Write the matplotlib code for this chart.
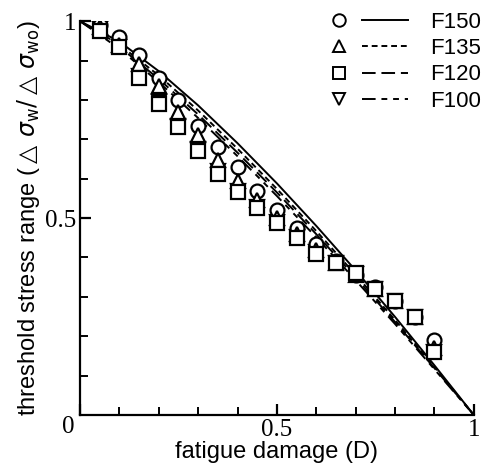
import numpy as np
import matplotlib.pyplot as plt
from matplotlib.lines import Line2D
from matplotlib.legend_handler import HandlerTuple

# measured points (fatigue damage D vs threshold stress range ratio)
D_pts = [0.05, 0.10, 0.15, 0.20, 0.25, 0.30, 0.35, 0.40, 0.45,
         0.50, 0.55, 0.60, 0.65, 0.70, 0.75, 0.80, 0.85, 0.90]
F150_pts = [0.99, 0.96, 0.915, 0.855, 0.80, 0.735, 0.68, 0.63, 0.57,
            0.52, 0.475, 0.435, 0.39, 0.355, 0.325, 0.29, 0.25, 0.19]
F135_pts = [0.985, 0.94, 0.89, 0.835, 0.77, 0.71, 0.647, 0.595, 0.545,
            0.50, 0.46, 0.42, 0.385, 0.355, 0.32, 0.29, 0.25, 0.17]
F120_pts = [0.975, 0.935, 0.855, 0.79, 0.73, 0.67, 0.613, 0.565, 0.525,
            0.487, 0.45, 0.41, 0.385, 0.36, 0.32, 0.29, 0.25, 0.16]
F100_pts = [0.98, 0.935, 0.86, 0.795, 0.735, 0.675, 0.62, 0.57, 0.528,
            0.49, 0.452, 0.413, 0.385, 0.357, 0.32, 0.29, 0.25, 0.16]

# calculated curves
D_line = [0.0, 0.1, 0.2, 0.3, 0.4, 0.5, 0.6, 0.7, 0.8, 0.9, 1.0]
F150_line = [1.0, 0.948, 0.873, 0.786, 0.69, 0.588, 0.48, 0.367, 0.249, 0.126, 0.0]
F135_line = [1.0, 0.94, 0.862, 0.773, 0.676, 0.574, 0.467, 0.356, 0.241, 0.122, 0.0]
F120_line = [1.0, 0.935, 0.853, 0.763, 0.666, 0.565, 0.459, 0.349, 0.236, 0.119, 0.0]
F100_line = [1.0, 0.93, 0.845, 0.754, 0.657, 0.556, 0.451, 0.342, 0.231, 0.116, 0.0]

labels = ['F150', 'F135', 'F120', 'F100']
markers = ['o', '^', 's', 'v']
styles = ['-', (0, (3, 2)), (0, (7, 3)), (0, (7, 3, 3, 3, 3, 3))]

sans = ['Liberation Sans', 'DejaVu Sans']
serif = ['Liberation Serif', 'DejaVu Serif']

fig = plt.figure(figsize=(4.88, 4.65), dpi=100)
ax = fig.add_axes([0.164, 0.1075, 0.807, 0.847])

pts = [F150_pts, F135_pts, F120_pts, F100_pts]
lines = [F150_line, F135_line, F120_line, F100_line]
order = [3, 0, 1, 2]  # draw F100 first so squares cover it
handles = []
for lab, m, ls, yp, yl in zip(labels, markers, styles, pts, lines):
    ax.plot(D_line, yl, color='black', lw=1.4, linestyle=ls, zorder=2)
    hm = Line2D([], [], linestyle='none', marker=m, ms=9, mfc='white',
                mec='black', mew=1.4)
    hl = Line2D([], [], color='black', lw=1.4, linestyle=ls)
    handles.append((hm, hl))
for k in order:
    ax.plot(D_pts, pts[k], linestyle='none', marker=markers[k], ms=10,
            mfc='white', mec='black', mew=1.6, zorder=3)

ax.set_xlim(0, 1)
ax.set_ylim(0, 1)
ax.spines['top'].set_visible(False)
ax.spines['right'].set_visible(False)
ax.spines['left'].set_linewidth(1.6)
ax.spines['bottom'].set_linewidth(1.6)

ax.set_xticks([0, 0.5, 1])
ax.set_xticklabels(['', '0.5', '1'], family=serif, fontsize=18)
ax.set_yticks([0.5, 1])
ax.set_yticklabels(['0.5', '1'], family=serif, fontsize=18)
ax.set_xticks(np.arange(0, 1.01, 0.1), minor=True)
ax.set_yticks(np.arange(0, 1.01, 0.1), minor=True)
ax.tick_params(which='major', direction='in', length=8, width=1.6, pad=3)
ax.tick_params(which='minor', direction='in', length=6, width=1.4)
ax.annotate('0', xy=(0, 0), xytext=(-12, -12), textcoords='offset pixels',
            ha='center', va='center', family=serif, fontsize=18)

ax.set_xlabel('fatigue damage (D)', family=sans, fontsize=17, labelpad=0)
ax.set_ylabel(r'threshold stress range ($\triangle\,\sigma_{\rm w}/\triangle\,\sigma_{\rm wo}$)',
              family=sans, fontsize=17, labelpad=2)

fig.legend(handles, labels, handler_map={tuple: HandlerTuple(ndivide=None, pad=0.0)},
           loc='upper right', bbox_to_anchor=(0.985, 0.975), frameon=False,
           prop={'family': sans, 'size': 16}, handlelength=4.1,
           handletextpad=1.0, labelspacing=0.24, borderpad=0, borderaxespad=0)

fig.savefig('out.png', dpi=100)
